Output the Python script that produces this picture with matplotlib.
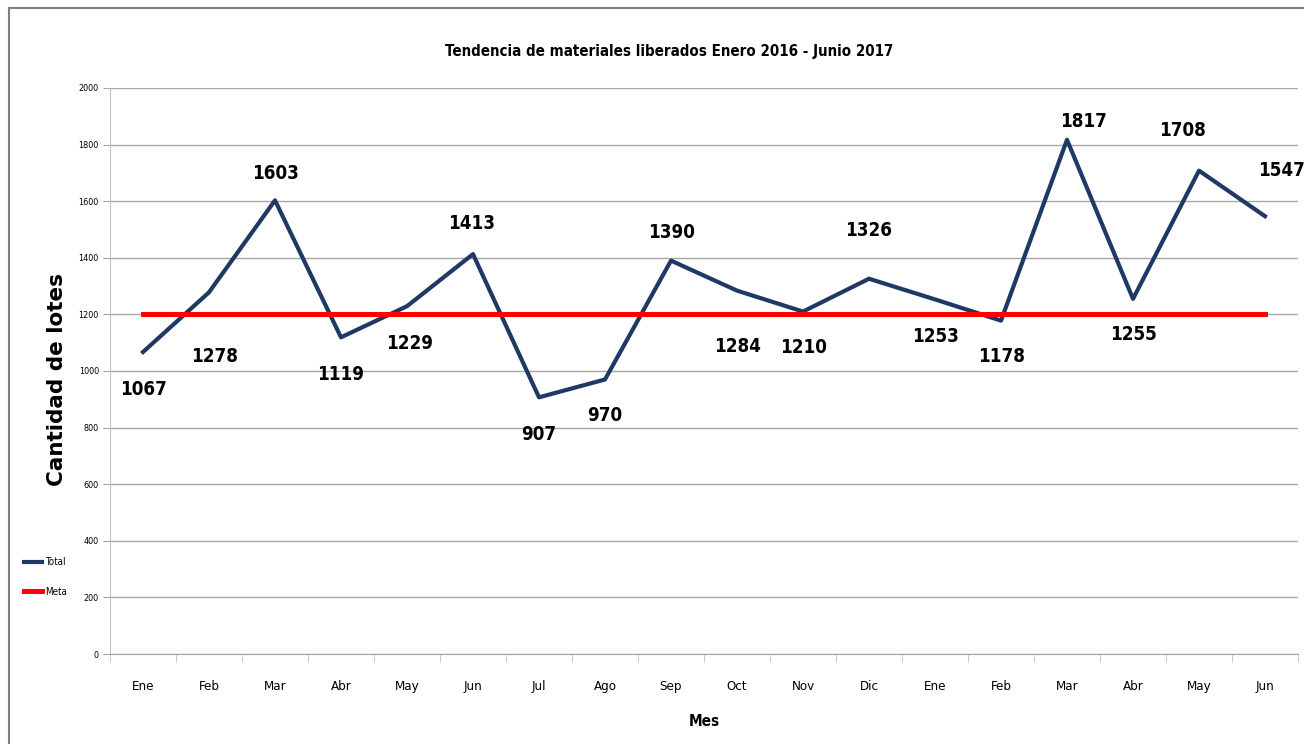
import matplotlib.pyplot as plt
from matplotlib.patches import Rectangle

# datos de lotes liberados por mes
meses = ['Ene', 'Feb', 'Mar', 'Abr', 'May', 'Jun', 'Jul', 'Ago', 'Sep',
         'Oct', 'Nov', 'Dic', 'Ene', 'Feb', 'Mar', 'Abr', 'May', 'Jun']
total = [1067, 1278, 1603, 1119, 1229, 1413, 907, 970, 1390,
         1284, 1210, 1326, 1253, 1178, 1817, 1255, 1708, 1547]
meta = [1200] * len(meses)

# desplazamiento de cada etiqueta (puntos) respecto al punto
off_x = [0, 4, 0, 0, 2, -1, 0, 0, 0, 0, 0, 0, 0, 0, 12, 0, -12, 12]
off_y = [-27, -46, 19, -27, -27, 22, -27, -26, 20, -40, -26, 35, -27, -26, 13, -26, 29, 33]

plt.rcParams['font.family'] = ['DejaVu Sans']
plt.rcParams['font.stretch'] = 'condensed'

fig = plt.figure(figsize=(13.04, 7.44), dpi=100)
ax = fig.add_axes([110 / 1304, 1 - 654 / 744, 1188 / 1304, 566 / 744])

x = list(range(len(meses)))
ax.plot(x, total, color='#1F3864', lw=3, label='Total', zorder=3)
ax.plot(x, meta, color='#FF0000', lw=3.6, label='Meta', zorder=4)

for i, v in enumerate(total):
    ax.annotate(str(v), (i, v), xytext=(off_x[i], off_y[i]), textcoords='offset points',
                ha='center', va='center', fontsize=13.5, fontweight='bold', color='black')

ax.set_xlim(-0.5, len(meses) - 0.5)
ax.set_ylim(0, 2000)
ax.set_yticks(range(0, 2001, 200))
ax.yaxis.grid(True, color='#A6A6A6', lw=1)
ax.set_axisbelow(True)

ax.set_xticks(x)
ax.set_xticklabels(meses, fontsize=9.5)
ax.set_xticks([i - 0.5 for i in range(len(meses) + 1)], minor=True)
ax.tick_params(axis='x', which='major', length=0, pad=19)
ax.tick_params(axis='x', which='minor', length=6, color='#BFBFBF')
ax.tick_params(axis='y', labelsize=6.5, length=5, color='#A6A6A6', pad=3)

for s in ['top', 'right']:
    ax.spines[s].set_visible(False)
ax.spines['left'].set_color('#BFBFBF')
ax.spines['bottom'].set_color('#A6A6A6')

ax.set_title('Tendencia de materiales liberados Enero 2016 - Junio 2017',
             fontsize=10.8, fontweight='bold', pad=23, x=0.471)
ax.set_xlabel('Mes', fontsize=11, fontweight='bold', labelpad=15)
fig.text(57 / 1304, 1 - 380 / 744, 'Cantidad de lotes', rotation=90,
         ha='center', va='center', fontsize=15.5, fontweight='bold', stretch='normal')

fig.legend(loc='center left', bbox_to_anchor=(15 / 1304, 1 - 577 / 744), frameon=False,
           fontsize=7, handlelength=1.9, handletextpad=0.3, labelspacing=2.0)

# marco del gráfico
fig.patches.append(Rectangle((9 / 1304, -0.1), 1.2, 1 - 8 / 744 + 0.1, transform=fig.transFigure,
                             fill=False, edgecolor='#808080', lw=1.5))

fig.savefig('out.png', dpi=100)
